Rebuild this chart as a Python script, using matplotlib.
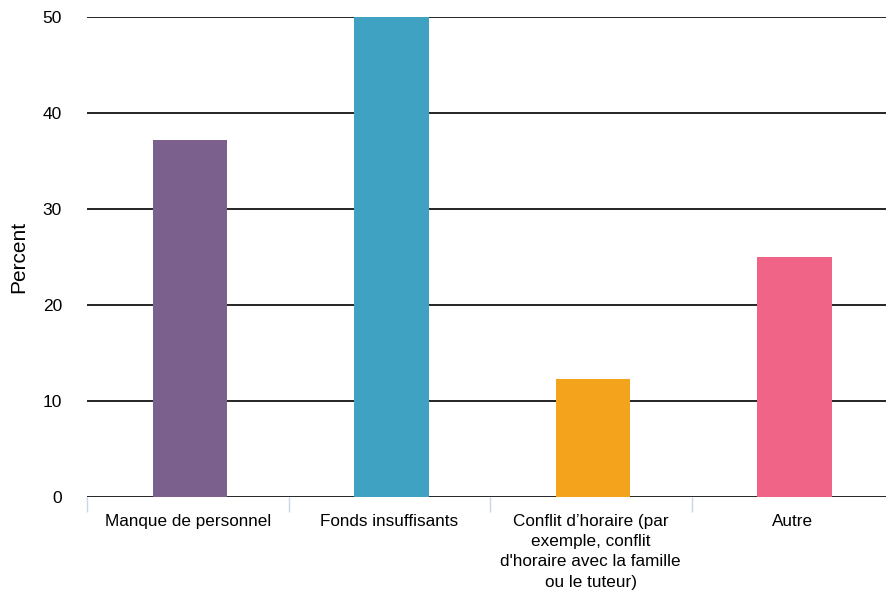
import matplotlib.pyplot as plt

categories = [
    "Manque de personnel",
    "Fonds insuffisants",
    "Conflit d\u2019horaire (par\nexemple, conflit\nd'horaire avec la famille\nou le tuteur)",
    "Autre",
]
values = [37.2, 50, 12.3, 25]
colors = ["#7b5f8d", "#3fa2c2", "#f4a41c", "#ef6487"]
yticks = [0, 10, 20, 30, 40, 50]

plt.rcParams["font.family"] = ["Liberation Sans", "DejaVu Sans"]

fig = plt.figure(figsize=(8.86, 5.97), dpi=100)
ax = fig.add_axes([87 / 886, 100 / 597, 806 / 886, 480 / 597])

x = list(range(len(categories)))
ax.bar([i + 0.012 for i in x], values, width=0.37, color=colors, zorder=3)

ax.set_xlim(-0.5, len(categories) - 0.5)
ax.set_ylim(0, 50)
ax.set_yticks(yticks)
for v in yticks:
    ax.axhline(v, color="black", lw=1.2, zorder=2)

# separators between categories, labels centred on the bars
ax.set_xticks([i - 0.5 for i in range(len(categories) + 1)])
ax.set_xticklabels([])
ax.set_xticks(x, minor=True)
ax.set_xticklabels(categories, minor=True, fontsize=12.3, linespacing=1.45)
ax.tick_params(axis="x", which="major", length=11, color="#c9d6ea", width=1)
ax.tick_params(axis="x", which="minor", length=0, pad=12)
ax.tick_params(axis="y", length=0, labelsize=12.5, pad=18)

for s in ax.spines.values():
    s.set_visible(False)

ax.set_ylabel("Percent", fontsize=15)
ax.yaxis.set_label_coords(-0.073, 0.5)

fig.savefig("out.png", dpi=100)
